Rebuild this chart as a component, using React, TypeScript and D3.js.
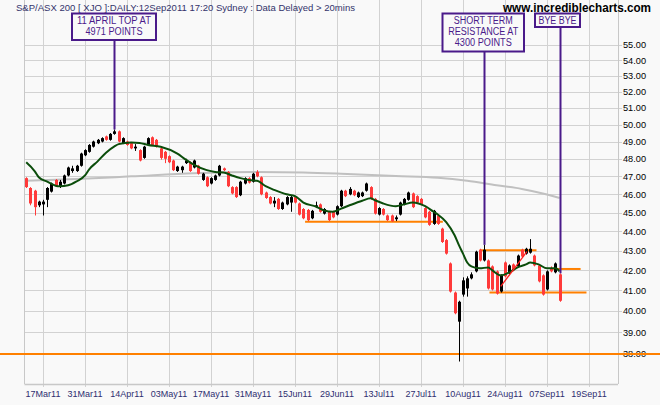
import React from 'react';
import * as d3 from 'd3';

const W = 660;
const H = 405;

// Daily OHLC (index points / 100), 11 Mar 2011 .. 12 Sep 2011
const open = [
  46.9, 46.35, 46.2, 45.4, 45.45, 45.7, 46.15, 46.8, 46.45, 46.6,
  47.05, 47.3, 47.3, 47.6, 48.2, 48.4, 48.7, 48.9, 49.0, 49.3,
  49.1, 49.45, 49.6, 48.9, 49.0, 48.9, 48.6, 48.5, 48.05, 48.8,
  49.25, 49.1, 48.6, 48.4, 48.15, 47.9, 47.3, 47.35, 47.75, 47.8,
  47.5, 47.6, 46.8, 46.95, 46.6, 46.8, 47.05, 47.45, 47.25, 46.4,
  46.4, 45.95, 46.6, 46.9, 46.7, 47.25, 46.95, 46.1, 45.85, 45.5,
  45.75, 45.2, 45.45, 45.55, 45.85, 45.5, 45.2, 45.15, 44.7, 45.3,
  45.45, 44.95, 45.05, 45.05, 44.9, 45.35, 46.2, 46.0, 46.2, 45.85,
  45.9, 46.2, 46.4, 45.75, 44.9, 45.2, 44.85, 44.85, 44.65, 44.9,
  45.45, 45.7, 46.05, 45.9, 45.75, 45.25, 45.05, 44.4, 44.85, 44.15,
  43.55, 42.35, 40.9, 39.5, 40.8, 41.1, 41.6, 41.95, 43.05, 42.5,
  42.5, 42.2, 41.95, 40.95, 42.4, 41.85, 42.3, 42.2, 43.05, 42.85,
  42.9, 42.75, 42.25, 41.75, 41.05, 42.1, 41.9, 41.8,
];
const high = [
  46.95, 46.4, 46.25, 45.65, 45.7, 46.4, 46.65, 46.85, 46.8, 47.1,
  47.55, 47.6, 47.65, 48.35, 48.55, 48.85, 49.05, 49.15, 49.25, 49.35,
  49.5, 49.71, 49.65, 49.25, 49.05, 48.95, 48.85, 48.55, 48.75, 49.25,
  49.3, 49.15, 48.65, 48.45, 48.2, 47.95, 47.6, 47.6, 48.0, 47.85,
  47.95, 47.65, 47.2, 47.0, 46.95, 47.1, 47.65, 47.5, 47.3, 46.45,
  46.45, 46.75, 46.95, 46.95, 47.2, 47.35, 47.0, 46.15, 45.9, 45.85,
  45.8, 45.6, 45.9, 45.95, 45.9, 45.55, 45.25, 45.2, 45.15, 45.6,
  45.5, 45.25, 45.1, 45.1, 45.4, 46.25, 46.25, 46.4, 46.25, 46.15,
  46.15, 46.65, 46.45, 45.8, 45.3, 45.25, 44.9, 44.9, 44.85, 45.6,
  45.8, 46.15, 46.1, 45.95, 45.8, 45.3, 45.1, 45.15, 44.9, 44.2,
  43.6, 42.4, 40.95, 40.5, 41.65, 41.7, 41.9, 43.0, 43.1, 43.3,
  42.55, 42.25, 42.0, 41.8, 42.45, 42.3, 42.35, 42.8, 43.1, 43.15,
  43.6, 42.8, 42.3, 41.8, 42.0, 42.2, 42.4, 41.85,
];
const low = [
  46.35, 45.4, 44.85, 45.3, 44.85, 45.3, 46.1, 46.4, 46.35, 46.55,
  47.0, 47.2, 47.25, 47.55, 48.15, 48.35, 48.65, 48.85, 48.95, 49.05,
  49.05, 49.4, 48.95, 48.85, 48.75, 48.55, 48.45, 47.85, 48.0, 48.75,
  48.75, 48.65, 47.95, 47.75, 47.75, 47.3, 47.25, 47.2, 47.7, 47.25,
  47.45, 47.1, 46.75, 46.4, 46.55, 46.75, 47.0, 47.3, 46.4, 46.0,
  45.8, 45.9, 46.55, 46.6, 46.65, 46.95, 45.95, 45.75, 45.45, 45.3,
  45.15, 45.15, 45.4, 45.05, 45.5, 44.85, 44.65, 44.55, 44.65, 45.25,
  45.0, 44.9, 44.55, 44.7, 44.85, 45.3, 45.85, 45.95, 45.9, 45.8,
  45.85, 46.15, 45.7, 44.9, 44.85, 44.85, 44.55, 44.5, 44.55, 44.85,
  45.4, 45.65, 45.25, 45.5, 45.4, 44.7, 44.3, 44.35, 44.35, 43.4,
  42.8, 40.9, 39.85, 37.66, 40.7, 40.7, 41.55, 41.9, 42.45, 42.45,
  41.05, 41.0, 40.8, 40.9, 41.65, 41.8, 41.95, 42.15, 42.65, 42.8,
  42.85, 42.2, 41.4, 40.75, 41.0, 41.9, 41.85, 40.45,
];
const close = [
  46.4, 45.5, 45.3, 45.6, 45.6, 46.35, 46.6, 46.45, 46.7, 47.05,
  47.5, 47.45, 47.6, 48.3, 48.5, 48.8, 49.0, 49.1, 49.2, 49.1,
  49.45, 49.6, 49.0, 49.2, 48.8, 48.6, 48.7, 47.9, 48.7, 49.2,
  48.8, 48.7, 48.05, 48.0, 47.8, 47.35, 47.55, 47.55, 47.9, 47.3,
  47.9, 47.15, 47.15, 46.45, 46.9, 47.05, 47.6, 47.35, 46.45, 46.05,
  45.85, 46.7, 46.9, 46.65, 47.15, 47.0, 46.0, 45.8, 45.5, 45.65,
  45.2, 45.55, 45.85, 45.85, 45.55, 44.9, 44.7, 44.6, 45.1, 45.4,
  45.05, 45.2, 44.6, 44.75, 45.35, 46.2, 45.9, 46.3, 45.95, 46.1,
  46.1, 46.6, 45.75, 44.95, 45.25, 44.9, 44.6, 44.55, 44.75, 45.55,
  45.75, 46.1, 45.3, 45.55, 45.45, 44.75, 44.35, 45.1, 44.4, 43.45,
  42.85, 40.95, 39.9, 40.45, 41.5, 41.6, 41.8, 42.95, 42.5, 43.05,
  41.1, 41.05, 40.85, 41.75, 41.7, 42.25, 42.0, 42.75, 42.7, 43.1,
  43.1, 42.25, 41.45, 40.8, 41.95, 41.95, 42.35, 40.5,
];

// Short moving average (green), read at knots: [trading-day index, value]
const greenIdx = [0, 2, 3, 5, 7, 8, 10, 12, 14, 15, 17, 19, 21, 22, 25, 27, 29, 32, 36, 38, 40, 43, 45, 47, 49, 51, 53, 55, 57, 59, 62, 64, 66, 69, 71, 73, 75, 77, 80, 82, 83, 85, 88, 90, 92, 95, 97, 98, 100, 102, 103, 104, 105, 106, 108, 110, 111, 113, 115, 117, 119, 120, 122, 124, 126, 127];
const greenVal = [47.8, 47.3, 46.95, 46.7, 46.48, 46.45, 46.5, 46.72, 47.05, 47.4, 47.85, 48.35, 48.72, 48.85, 48.95, 48.92, 48.8, 48.7, 48.3, 47.95, 47.65, 47.35, 47.25, 47.22, 47.05, 46.9, 46.8, 46.75, 46.45, 46.25, 46.0, 45.9, 45.55, 45.33, 45.12, 45.05, 45.22, 45.4, 45.65, 45.78, 45.68, 45.5, 45.35, 45.45, 45.55, 45.35, 45.05, 44.9, 44.5, 43.8, 43.3, 42.85, 42.4, 42.2, 42.1, 42.15, 42.0, 41.75, 41.9, 42.15, 42.3, 42.4, 42.3, 42.1, 42.1, 41.95];

// Long moving average (grey), read at knots
const grayIdx = [0, 12, 25, 40, 55, 66, 75, 88, 98, 105, 112, 118, 123, 127];
const grayVal = [46.75, 46.85, 47.0, 47.18, 47.25, 47.22, 47.15, 47.02, 46.92, 46.75, 46.5, 46.3, 46.05, 45.8];

// Axis ticks
const xTickIdx = [4, 14, 24, 34, 44, 54, 64, 74, 84, 94, 104, 114, 124, 134];
const xTickLabels = ['17Mar11', '31Mar11', '14Apr11', '03May11', '17May11', '31May11', '15Jun11', '29Jun11', '13Jul11', '27Jul11', '10Aug11', '24Aug11', '07Sep11', '19Sep11'];
const yTicks = [38, 39, 40, 41, 42, 43, 44, 45, 46, 47, 48, 49, 50, 51, 52, 53, 54, 55];

// Horizontal support / resistance lines (orange)
const levelVal = [44.52, 43.02, 42.07, 40.9];
const levelStart = [66.4, 108, 125.5, 110.3];
const levelEnd = [99.2, 121.5, 132, 133.4];
const floorLevel = 38;

// Red trend line
const trendIdx = [113, 119.2];
const trendVal = [41.2, 42.95];

// Annotations
const noteText = [
  ['11 APRIL TOP AT', '4971 POINTS'],
  ['SHORT TERM', 'RESISTANCE AT', '4300 POINTS'],
  ['BYE BYE'],
];
const noteIdx = [21, 109, 127];

export default function App() {
  const PL = 24.5, PR = 618, PB = 384;
  const x = d3.scaleLinear().domain([0, 130]).range([26.2, 572.2]);
  const y = d3.scaleLog().domain([38, 55]).range([354, 45]);
  const px = (v: number) => Math.round(v) + 0.5;

  const purple = '#4a1a8a';
  const orange = '#ff8000';
  const grid = '#d2d2d2';

  const greenLine = d3.line<number>()
    .x((_, i) => x(greenIdx[i]))
    .y((d) => y(d))
    .curve(d3.curveMonotoneX)(greenVal) || '';
  const grayLine = d3.line<number>()
    .x((_, i) => x(grayIdx[i]))
    .y((d) => y(d))
    .curve(d3.curveMonotoneX)(grayVal) || '';

  const boxes = [
    { x0: 72, x1: 156, y0: 13.5, y1: 40, widths: [74, 57] },
    { x0: 442.5, x1: 524, y0: 13.5, y1: 51.5, widths: [59, 70, 57] },
    { x0: 535, x1: 580, y0: 13.5, y1: 27, widths: [38] },
  ];

  return (
    <svg width={W} height={H} style={{ position: 'absolute', left: 0, top: 0, background: '#f9f9f9' }}
      fontFamily="'Liberation Sans', Arial, sans-serif">
      <rect x={0} y={0} width={W} height={H} fill="#f9f9f9" />

      {/* vertical gridlines */}
      {xTickIdx.map((t) => (
        <line key={'vg' + t} x1={px(x(t))} x2={px(x(t))} y1={0} y2={PB + 3} stroke={grid} strokeWidth={1} />
      ))}
      {/* horizontal gridlines */}
      {yTicks.map((t) => (
        <line key={'hg' + t} x1={PL} x2={PR + 4} y1={px(y(t))} y2={px(y(t))} stroke={grid} strokeWidth={1} />
      ))}
      {/* frame */}
      <line x1={PL} x2={PL} y1={0} y2={PB} stroke="#c8c8c8" strokeWidth={1} />
      <line x1={px(PR)} x2={px(PR)} y1={0} y2={PB} stroke="#c8c8c8" strokeWidth={1} />
      <line x1={PL} x2={PR} y1={px(PB)} y2={px(PB)} stroke="#c8c8c8" strokeWidth={1.5} />

      {/* header */}
      <text x={16} y={10.5} fontSize={9.5} fill="#33336b" textLength={339} lengthAdjust="spacingAndGlyphs">
        S&amp;P/ASX 200 [ XJO ]:DAILY:12Sep2011 17:20 Sydney : Data Delayed &gt; 20mins
      </text>
      <text x={503} y={11.7} fontSize={12.5} fontWeight="bold" fill="#000" textLength={148} lengthAdjust="spacingAndGlyphs">
        www.incrediblecharts.com
      </text>

      {/* y labels */}
      {yTicks.map((t) => (
        <text key={'yl' + t} x={623} y={y(t) + 3.3} fontSize={9} fill="#000" textLength={23} lengthAdjust="spacingAndGlyphs">
          {t.toFixed(2)}
        </text>
      ))}
      {/* x labels */}
      {xTickIdx.map((t, i) => (
        <text key={'xl' + t} x={x(t)} y={397} fontSize={9} fill="#2e2e70" textAnchor="middle">
          {xTickLabels[i]}
        </text>
      ))}

      {/* orange levels */}
      <line x1={0} x2={W} y1={y(floorLevel)} y2={y(floorLevel)} stroke={orange} strokeWidth={2} />
      {levelVal.map((v, i) => (
        <line key={'lv' + i} x1={x(levelStart[i])} x2={x(levelEnd[i])} y1={y(v)} y2={y(v)} stroke={orange} strokeWidth={2} />
      ))}

      {/* grey MA */}
      <path d={grayLine} fill="none" stroke="#c0c0c0" strokeWidth={2} />

      {/* candles */}
      {close.map((c, i) => {
        const o = open[i];
        const up = c >= o;
        const col = up ? '#000000' : '#ff3a3a';
        const cx = Math.round(x(i));
        const top = y(Math.max(o, c));
        const bot = y(Math.min(o, c));
        return (
          <g key={'c' + i}>
            <line x1={cx + 0.5} x2={cx + 0.5} y1={y(high[i])} y2={y(low[i])} stroke={col} strokeWidth={1} />
            <rect x={cx - 1} y={top} width={3} height={Math.max(1, bot - top)} fill={col} />
          </g>
        );
      })}

      {/* green MA */}
      <path d={greenLine} fill="none" stroke="#0b4d0b" strokeWidth={2} />

      {/* red trend line */}
      <line x1={x(trendIdx[0])} x2={x(trendIdx[1])} y1={y(trendVal[0])} y2={y(trendVal[1])} stroke="#ff2020" strokeWidth={1.3} />

      {/* annotations */}
      {boxes.map((b, k) => {
        const lx = Math.round(x(noteIdx[k])) + 0.5;
        return (
          <g key={'n' + k}>
            <line x1={lx} x2={lx} y1={b.y1} y2={y(high[noteIdx[k]])} stroke={purple} strokeWidth={2} />
            <rect x={b.x0} y={b.y0} width={b.x1 - b.x0} height={b.y1 - b.y0} fill="#f9f9f9" stroke={purple} strokeWidth={2} />
            {noteText[k].map((t, j) => (
              <text key={j} x={(b.x0 + b.x1) / 2} y={20.7 + j * 11 + 3.5} fontSize={10} fill={purple} textAnchor="middle"
                textLength={b.widths[j]} lengthAdjust="spacingAndGlyphs">
                {t}
              </text>
            ))}
          </g>
        );
      })}
    </svg>
  );
}
